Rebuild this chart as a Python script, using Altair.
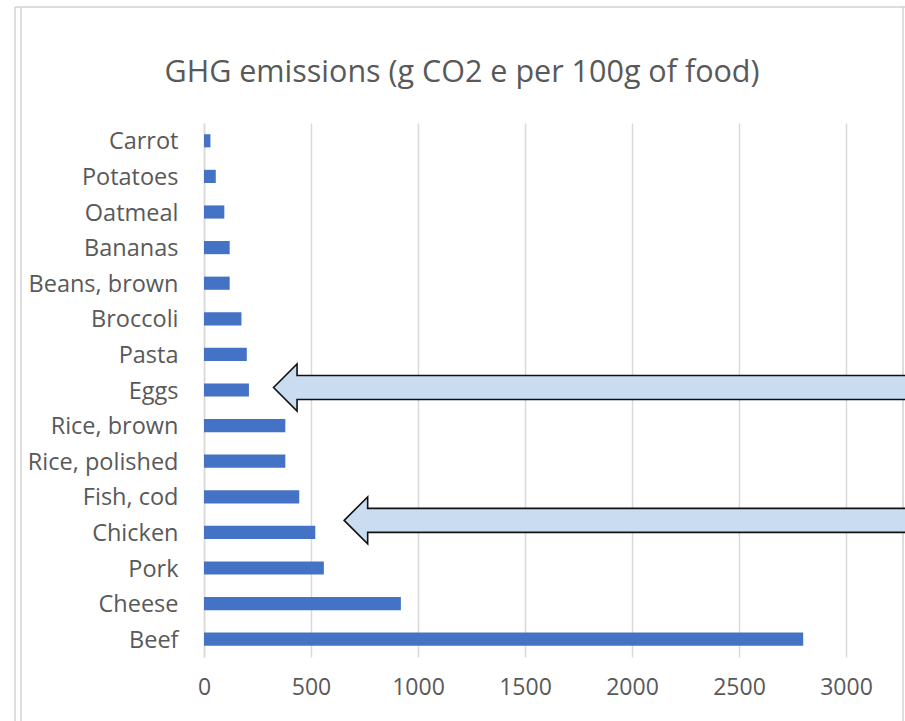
import altair as alt
import pandas as pd

# Greenhouse-gas emissions per 100 g of food (g CO2e), top to bottom
foods = [
    "Carrot", "Potatoes", "Oatmeal", "Bananas", "Beans, brown", "Broccoli",
    "Pasta", "Eggs", "Rice, brown", "Rice, polished", "Fish, cod", "Chicken",
    "Pork", "Cheese", "Beef",
]
emissions = [30, 55, 95, 120, 120, 175, 200, 210, 380, 380, 445, 520, 560, 920, 2800]

x_ticks = [0, 500, 1000, 1500, 2000, 2500, 3000]

# Callout arrows pointing at two of the foods
arrow_foods = ["Eggs", "Chicken"]
arrow_tips = [325, 655]

title_text = "GHG emissions (g CO2 e per 100g of food)"

TEXT = "#595959"
GRID = "#d9d9d9"
FONT = "Open Sans"

df = pd.DataFrame({"food": foods, "g": emissions})
arrows = pd.DataFrame({"food": arrow_foods, "tip": arrow_tips})

y_enc = alt.Y(
    "food:N", sort=foods, title=None,
    scale=alt.Scale(paddingInner=0.63, paddingOuter=0.315),
    axis=alt.Axis(domain=True, domainColor=GRID, domainWidth=1.5, ticks=False,
                  labelPadding=26, labelFontSize=23.5, labelColor=TEXT,
                  labelFont=FONT, labelOffset=1.5, grid=False),
)
x_scale = alt.Scale(domain=[0, 3000], nice=False)

bars = alt.Chart(df).mark_bar(color="#4472c4").encode(
    x=alt.X("g:Q", scale=x_scale, title=None,
            axis=alt.Axis(values=x_ticks, format="d", grid=True, gridColor=GRID,
                          gridWidth=1.5, domain=False, ticks=False, labelPadding=19,
                          labelFlush=False, labelFontSize=23, labelColor=TEXT,
                          labelFont=FONT)),
    y=y_enc,
)

# Block arrow: tip at the origin, shaft running far to the right (unit = 100 px)
ARROW_PATH = ("M0,0 L0.235,-0.235 L0.235,-0.12 L8,-0.12 L8,0.12 "
              "L0.235,0.12 L0.235,0.235 Z")


def arrow_layer(food, dy):
    return alt.Chart(arrows[arrows["food"] == food]).mark_point(
        shape=ARROW_PATH, size=40000, filled=True, fill="#c9dcf0",
        stroke="#111111", strokeWidth=1.6, opacity=1, yOffset=dy,
    ).encode(
        x=alt.X("tip:Q", scale=x_scale),
        y=alt.Y("food:N", sort=foods),
    )


# Outer frame lines around the chart area
frame_df = pd.DataFrame({"k": [0]})
frame_color = "#d2d2d2"
frame = alt.layer(
    alt.Chart(frame_df).mark_rule(color=frame_color, strokeWidth=1.5).encode(
        x=alt.value(-189), y=alt.value(-116), y2=alt.value(610)),
    alt.Chart(frame_df).mark_rule(color=frame_color, strokeWidth=1.5).encode(
        x=alt.value(-183), y=alt.value(-116), y2=alt.value(610)),
    alt.Chart(frame_df).mark_rule(color=frame_color, strokeWidth=1.5).encode(
        x=alt.value(-189), x2=alt.value(720), y=alt.value(-116)),
    alt.Chart(frame_df).mark_rule(color=frame_color, strokeWidth=1.5).encode(
        x=alt.value(699), y=alt.value(-116), y2=alt.value(610)),
)

# Chart title, centred over the whole framed area
title = alt.Chart(frame_df).mark_text(
    text=title_text, font=FONT, fontSize=30.5, color=TEXT,
    align="center", baseline="alphabetic",
).encode(x=alt.value(258), y=alt.value(-41))

chart = alt.layer(
    frame, title, bars, arrow_layer("Eggs", -2.5), arrow_layer("Chicken", -12)
).properties(
    width=642,
    height=534,
    background="white",
    autosize=alt.AutoSizeParams(type="none"),
    padding={"left": 204, "top": 123, "right": 59, "bottom": 64},
).configure_view(strokeWidth=0)

chart.save("out.html", embed_options={"renderer": "svg", "actions": False})
